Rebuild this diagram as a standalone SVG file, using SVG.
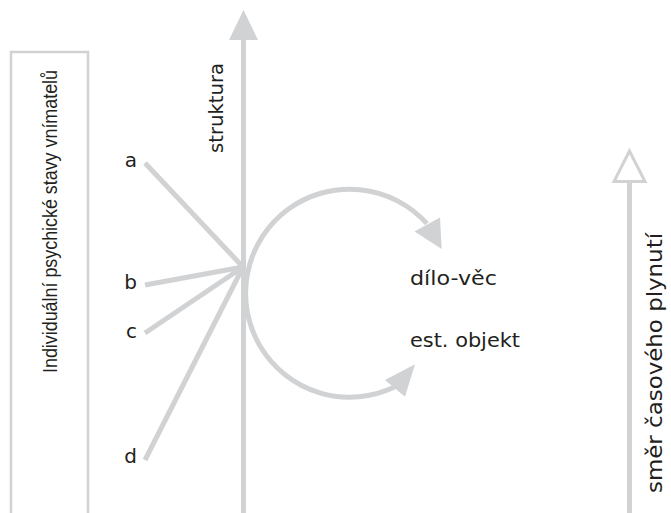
<svg xmlns="http://www.w3.org/2000/svg" width="671" height="513" viewBox="0 0 671 513">
<style>
.ln{stroke:#d1d2d4;stroke-width:5;fill:none;stroke-linecap:butt}
.hd{fill:#d1d2d4;stroke:none}
.tx{font-family:"DejaVu Sans","Liberation Sans",sans-serif;fill:#231f20}
.tl{font-family:"Liberation Sans","DejaVu Sans",sans-serif;fill:#231f20}
</style>
<rect width="671" height="513" fill="#ffffff"/>
<g id="box">
<rect x="11" y="52" width="77" height="470" fill="none" stroke="#d1d2d4" stroke-width="2.5"/>
<text class="tl" font-size="19.5" text-anchor="middle" textLength="303" lengthAdjust="spacingAndGlyphs" transform="translate(57,221.5) rotate(-90)">Individuální psychické stavy vnímatelů</text>
</g>
<g id="connectors">
<line class="ln" x1="243.5" y1="38" x2="243.5" y2="513"/>
<polygon class="hd" points="229,40 258,40 243.5,10"/>
<line class="ln" x1="145" y1="163" x2="243" y2="267"/>
<line class="ln" x1="145" y1="285" x2="243" y2="267"/>
<line class="ln" x1="145" y1="333" x2="243" y2="267"/>
<line class="ln" x1="145" y1="460" x2="243" y2="267"/>
<path class="ln" d="M427,223.7 A104,104 0 1 0 394.5,387"/>
<polygon class="hd" points="414.5,231.5 440,217.5 441.7,249"/>
<polygon class="hd" points="385,380 415,364.3 405,396.7"/>
<line class="ln" x1="629.5" y1="181" x2="629.5" y2="513" stroke-width="4.5"/>
<polygon points="629.5,151 614,181.5 645,181.5" fill="#ffffff" stroke="#d1d2d4" stroke-width="3" stroke-linejoin="miter"/>
</g>
<g id="struktura"><text class="tx" font-size="20" text-anchor="middle" textLength="90" lengthAdjust="spacingAndGlyphs" transform="translate(223,108) rotate(-90)">struktura</text></g>
<g id="label-a"><text class="tx" font-size="20" text-anchor="end" x="137" y="167">a</text></g>
<g id="label-b"><text class="tx" font-size="20" text-anchor="end" x="137" y="289">b</text></g>
<g id="label-c"><text class="tx" font-size="20" text-anchor="end" x="137" y="338">c</text></g>
<g id="label-d"><text class="tx" font-size="20" text-anchor="end" x="137" y="463">d</text></g>
<g id="dilo-vec"><text class="tx" font-size="20" x="410" y="285" textLength="87" lengthAdjust="spacingAndGlyphs">dílo-věc</text></g>
<g id="est-objekt"><text class="tx" font-size="20" x="410" y="347" textLength="110" lengthAdjust="spacingAndGlyphs">est. objekt</text></g>
<g id="cas"><text class="tx" font-size="20.5" text-anchor="middle" textLength="260" lengthAdjust="spacingAndGlyphs" transform="translate(662,363) rotate(-90)">směr časového plynutí</text></g>
</svg>
